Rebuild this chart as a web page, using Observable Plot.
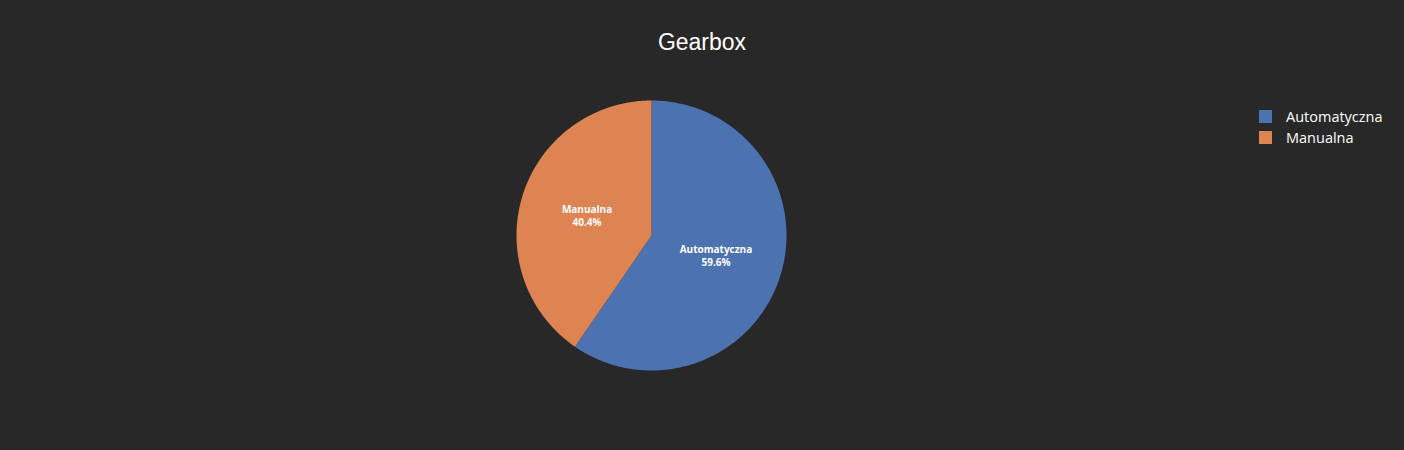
<!DOCTYPE html>
<html>
<head>
<meta charset="utf-8">
<script src="https://cdn.jsdelivr.net/npm/d3@7"></script>
<script src="https://cdn.jsdelivr.net/npm/@observablehq/plot@0.6"></script>
<style>
  html, body { margin: 0; padding: 0; background: #282828; }
  #wrap { position: relative; width: 1404px; height: 450px; background: #282828; font-family: "Open Sans", "DejaVu Sans", sans-serif; }
  #title { position: absolute; left: 0; width: 1404px; top: 29px; text-align: center; color: #ffffff; font-family: "Liberation Sans", Arial, sans-serif; font-size: 23px; }
  #legend { position: absolute; left: 1259px; top: 106px; color: #ffffff; font-size: 14.5px; }
  .item { display: flex; align-items: center; height: 21px; }
  .sw { width: 13px; height: 13px; margin-right: 14px; }
  svg { position: absolute; left: 0; top: 0; }
</style>
</head>
<body>
<div id="wrap">
  <div id="chart"></div>
  <div id="title"></div>
  <div id="legend"></div>
</div>
<script>
const title = "Gearbox";
const categories = ["Automatyczna", "Manualna"];
const values = [59.6, 40.4];
const colors = ["#4c72b0", "#dd8452"];

const slices = categories.map((c, i) => ({category: c, value: values[i], color: colors[i]}));
const total = d3.sum(values);
const arcs = d3.pie().sort(null).value(d => d.value)(slices);

// polygon outline of each slice (unit radius), angles clockwise from 12 o'clock
const outline = [];
for (const a of arcs) {
  outline.push({category: a.data.category, x: 0, y: 0});
  const steps = Math.max(2, Math.ceil((a.endAngle - a.startAngle) / (Math.PI / 360)));
  for (let k = 0; k <= steps; k++) {
    const t = a.startAngle + (a.endAngle - a.startAngle) * k / steps;
    outline.push({category: a.data.category, x: Math.sin(t), y: Math.cos(t)});
  }
}
const labels = arcs.map(a => {
  const m = (a.startAngle + a.endAngle) / 2;
  return {
    x: 0.5 * Math.sin(m), y: 0.5 * Math.cos(m),
    text: a.data.category + "\n" + (100 * a.data.value / total).toFixed(1) + "%"
  };
});

const plot = Plot.plot({
  width: 1404,
  height: 450,
  marginLeft: 516,
  marginRight: 618,
  marginTop: 100,
  marginBottom: 80,
  style: {background: "transparent", overflow: "visible"},
  x: {domain: [-1, 1], axis: null},
  y: {domain: [-1, 1], axis: null},
  color: {domain: categories, range: colors},
  marks: [
    Plot.line(outline, {x: "x", y: "y", z: "category", fill: "category", stroke: "none", curve: "linear-closed"}),
    Plot.text(labels, {x: "x", y: "y", text: "text", fill: "white", fontSize: 10, fontWeight: "bold", lineHeight: 1.3, fontFamily: "Open Sans, DejaVu Sans, sans-serif"})
  ]
});
document.getElementById("chart").appendChild(plot);
document.getElementById("title").textContent = title;
const leg = document.getElementById("legend");
categories.forEach((c, i) => {
  const it = document.createElement("div");
  it.className = "item";
  const sw = document.createElement("div");
  sw.className = "sw";
  sw.style.background = colors[i];
  const tx = document.createElement("span");
  tx.textContent = c;
  it.appendChild(sw); it.appendChild(tx);
  leg.appendChild(it);
});
</script>
</body>
</html>
